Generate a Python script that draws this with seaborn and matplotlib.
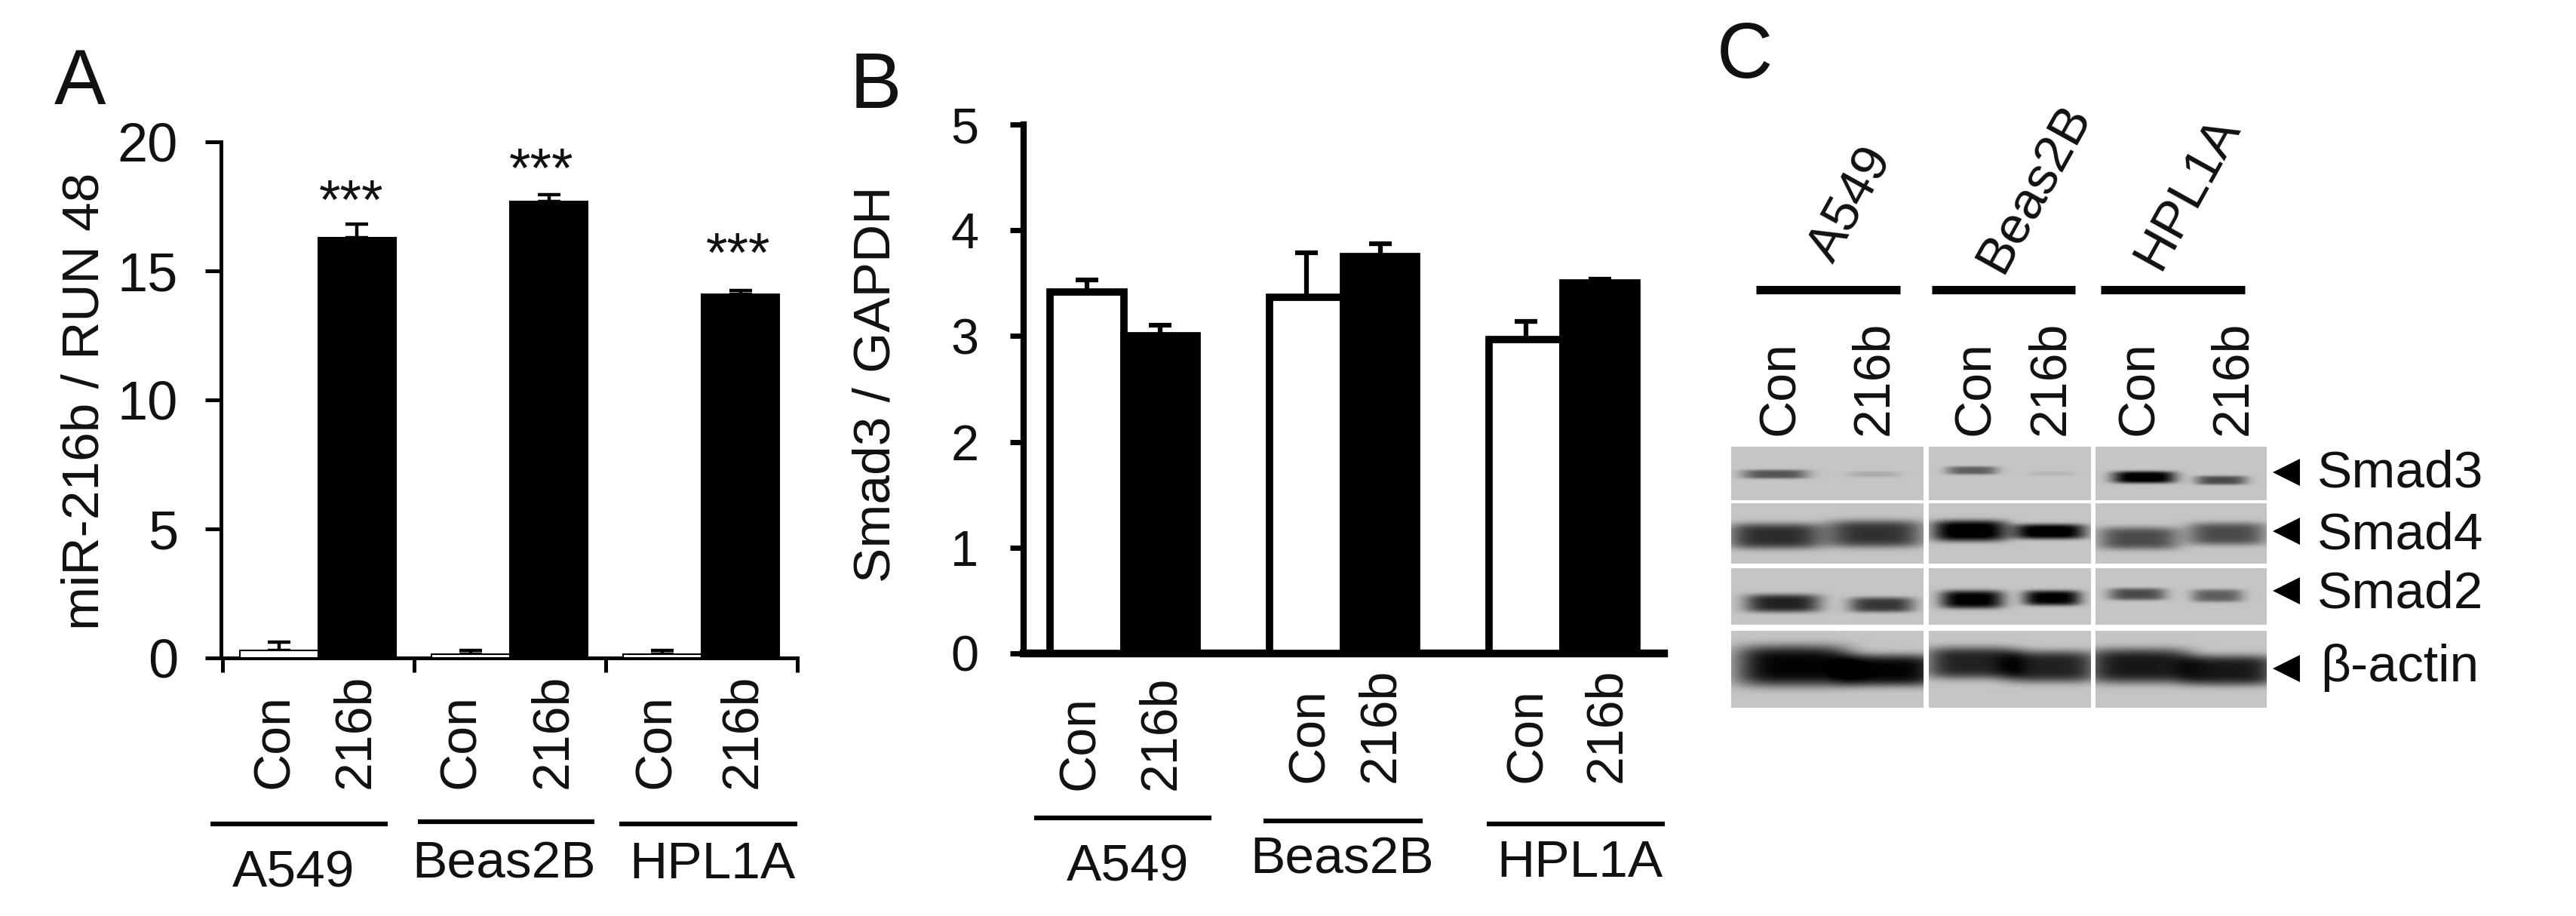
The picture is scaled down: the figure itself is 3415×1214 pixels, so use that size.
import matplotlib
matplotlib.use('Agg')
import matplotlib.pyplot as plt
import seaborn as sns
import pandas as pd
import numpy as np

W, H = 3415, 1214

cells = ['A549', 'Beas2B', 'HPL1A']
treatments = ['Con', '216b']

# panel A
mir_con = [0.3, 0.15, 0.15]
mir_216b = [16.3, 17.7, 14.1]
mir_con_err = [0.3, 0.15, 0.15]
mir_216b_err = [0.5, 0.25, 0.15]

# panel B
smad_con = [3.42, 3.37, 2.97]
smad_216b = [3.0, 3.75, 3.5]
smad_con_err = [0.11, 0.42, 0.17]
smad_216b_err = [0.1, 0.12, 0.04]

# panel C, band darkness per lane (Con, 216b for each cell line)
blot_names = ['Smad3', 'Smad4', 'Smad2', 'β-actin']
smad3_dark = [0.55, 0.12, 0.5, 0.07, 1.05, 0.6]
smad4_dark = [0.75, 0.72, 1.05, 1.05, 0.6, 0.6]
smad2_dark = [0.8, 0.7, 1.0, 1.0, 0.6, 0.5]
actin_dark = [0.95, 0.95, 0.8, 0.8, 0.85, 0.85]

sns.set_style('ticks')
plt.rcParams['font.family'] = ['Liberation Sans', 'DejaVu Sans']
plt.rcParams['text.color'] = '#111111'
plt.rcParams['axes.edgecolor'] = 'black'
plt.rcParams['xtick.color'] = 'black'
plt.rcParams['ytick.color'] = 'black'
plt.rcParams['ytick.labelcolor'] = '#111111'

fig = plt.figure(figsize=(W / 100, H / 100), dpi=100, facecolor='white')


def px_axes(x0, y0, x1, y1):
    return fig.add_axes([x0 / W, 1 - y1 / H, (x1 - x0) / W, (y1 - y0) / H])


def draw_bars(ax, con, treated, con_err, treated_err, width, edge, stem, ymax, yticks, xlim):
    df = pd.DataFrame({
        'cell': cells * 2,
        'treatment': ['Con'] * 3 + ['216b'] * 3,
        'value': con + treated,
    })
    sns.barplot(data=df, x='cell', y='value', hue='treatment', hue_order=treatments,
                palette=['white', 'black'], edgecolor='black', linewidth=edge,
                width=width, gap=0, legend=False, ax=ax, zorder=3, errorbar=None)
    errs = con_err + treated_err
    for bar, err in zip([b for c in ax.containers for b in c], errs):
        xc = bar.get_x() + bar.get_width() / 2
        ax.errorbar(xc, bar.get_height(), yerr=[[0], [err]], color='black',
                    elinewidth=stem, capsize=10.5, capthick=stem, zorder=2)
    ax.set_xlim(*xlim)
    ax.set_ylim(0, ymax)
    ax.set_yticks(yticks)
    ax.set_xlabel('')
    ax.set_ylabel('')
    ax.patch.set_alpha(0)
    sns.despine(ax=ax)


# panel A
ax_a = px_axes(293, 188, 1057, 872)
draw_bars(ax_a, mir_con, mir_216b, mir_con_err, mir_216b_err, 0.815, 1.5, 3.2, 20,
          [0, 5, 10, 15, 20], (-0.506, 2.5))
ax_a.set_xticks([-0.5, 0.5, 1.5, 2.5])
ax_a.set_xticklabels([])
ax_a.tick_params(axis='y', length=15, width=3.6, labelsize=52, pad=26)
ax_a.tick_params(axis='x', length=14, width=3.6)
for s in ['left', 'bottom']:
    ax_a.spines[s].set_linewidth(3.6)

# panel B
ax_b = px_axes(1357, 165, 2206, 866)
draw_bars(ax_b, smad_con, smad_216b, smad_con_err, smad_216b_err, 0.67, 7, 4.5, 5,
          [0, 1, 2, 3, 4, 5], (-0.455, 2.46))
ax_b.set_xticks([])
ax_b.tick_params(axis='y', length=13, width=5, labelsize=48, pad=30)
ax_b.spines['left'].set_linewidth(6)
ax_b.spines['bottom'].set_linewidth(7.5)

# everything else is placed in figure pixels
pix = fig.add_axes([0, 0, 1, 1])
pix.set_xlim(0, W)
pix.set_ylim(H, 0)
pix.axis('off')

# blot panels
col_edges = [(2295, 2550), (2557, 2772), (2778, 3005)]
row_edges = [(592, 663), (667, 747), (753, 828), (836, 938)]
lane_x = [[2353, 2484, 2614, 2719, 2842, 2944],
          [2353, 2485, 2611, 2717, 2835, 2952],
          [2363, 2494, 2614, 2720, 2833, 2939],
          [2377, 2503, 2614, 2719, 2835, 2954]]
lane_y = [[628, 628, 623, 627, 632, 636],
          [710, 707, 703, 704, 713, 707],
          [799, 801, 794, 792, 787, 789],
          [882, 888, 878, 883, 882, 888]]
lane_w = [[44, 35, 34, 30, 42, 34],
          [62, 64, 50, 48, 54, 52],
          [50, 43, 42, 38, 38, 34],
          [76, 68, 62, 62, 70, 64]]
lane_h = [[6, 4, 5.5, 3.5, 8, 6],
          [17, 18, 14, 10, 15, 15],
          [12, 10, 12, 10, 8, 8.5],
          [27, 21, 21, 21, 23, 20]]
dark_rows = [smad3_dark, smad4_dark, smad2_dark, actin_dark]
for r, (y0, y1) in enumerate(row_edges):
    for c, (x0, x1) in enumerate(col_edges):
        xx, yy = np.meshgrid(np.arange(x0, x1), np.arange(y0, y1))
        img = np.full(xx.shape, 0.77)
        for lane in range(2 * c, 2 * c + 2):
            shape = np.exp(-(np.abs((xx - lane_x[r][lane]) / lane_w[r][lane]) ** 4
                             + np.abs((yy - lane_y[r][lane]) / lane_h[r][lane]) ** 4))
            img = img - 0.8 * dark_rows[r][lane] * shape
        pix.imshow(np.clip(img, 0, 1), cmap='gray', vmin=0, vmax=1, aspect='auto',
                   extent=(x0, x1, y1, y0), interpolation='bilinear')
pix.set_xlim(0, W)
pix.set_ylim(H, 0)

# panel letters
for s, x, y in [('A', 106, 138), ('B', 1161, 143), ('C', 2313, 103)]:
    pix.text(x, y, s, fontsize=74, ha='center', va='baseline')

# axis titles
pix.text(113, 532, 'miR-216b / RUN 48', fontsize=50, rotation=90, ha='center', va='center')
pix.text(1161, 509, 'Smad3 / GAPDH', fontsize=50, rotation=90, ha='center', va='center')

# significance stars
for x, y in [(466, 236), (718, 194), (979, 306)]:
    pix.text(x, y, '***', fontsize=53, ha='center', va='top')

# lane labels
lane_labels = treatments * 3
for x, s in zip([364, 471, 611, 733, 870, 984], lane_labels):
    pix.text(x, 1045, s, fontsize=49, rotation=90, ha='center', va='bottom')
for x, y, s in zip([1432, 1539, 1736, 1830, 2025, 2130],
                   [1047, 1047, 1037, 1037, 1037, 1037], lane_labels):
    pix.text(x, y, s, fontsize=49, rotation=90, ha='center', va='bottom')
for x, s in zip([2360, 2484, 2619, 2718, 2836, 2960], lane_labels):
    pix.text(x, 577, s, fontsize=49, rotation=90, ha='center', va='bottom')

# group rules and names under A and B
for (x0, x1, y) in [(279, 514, 1092), (554, 788, 1089), (821, 1057, 1092),
                    (1371, 1606, 1084), (1675, 1886, 1088), (1971, 2207, 1092)]:
    pix.plot([x0, x1], [y, y], color='black', lw=4.5, solid_capstyle='butt')
for x, y, s in zip([389, 668, 944, 1495, 1779, 2094],
                   [1157, 1146, 1146, 1149, 1140, 1144], cells * 2):
    pix.text(x, y, s, fontsize=50, ha='center', va='center')

# panel C header
for (x0, x1) in [(2328, 2519), (2561, 2751), (2785, 2976)]:
    pix.plot([x0, x1], [384, 384], color='black', lw=8, solid_capstyle='butt')
for x, y, s in zip([2454, 2697, 2900], [271, 249, 255], cells):
    pix.text(x, y, s, fontsize=50, rotation=61, ha='center', va='center')

# blot names and arrowheads
for x, y, s in zip([3072, 3072, 3072, 3076], [627, 710, 788, 885], blot_names):
    pix.text(x, y, s, fontsize=50, ha='left', va='center')
for y in [626, 704, 783, 886]:
    pix.plot(3031, y, marker='<', ms=26, color='black', mew=0)

fig.savefig('out.png', dpi=100)
